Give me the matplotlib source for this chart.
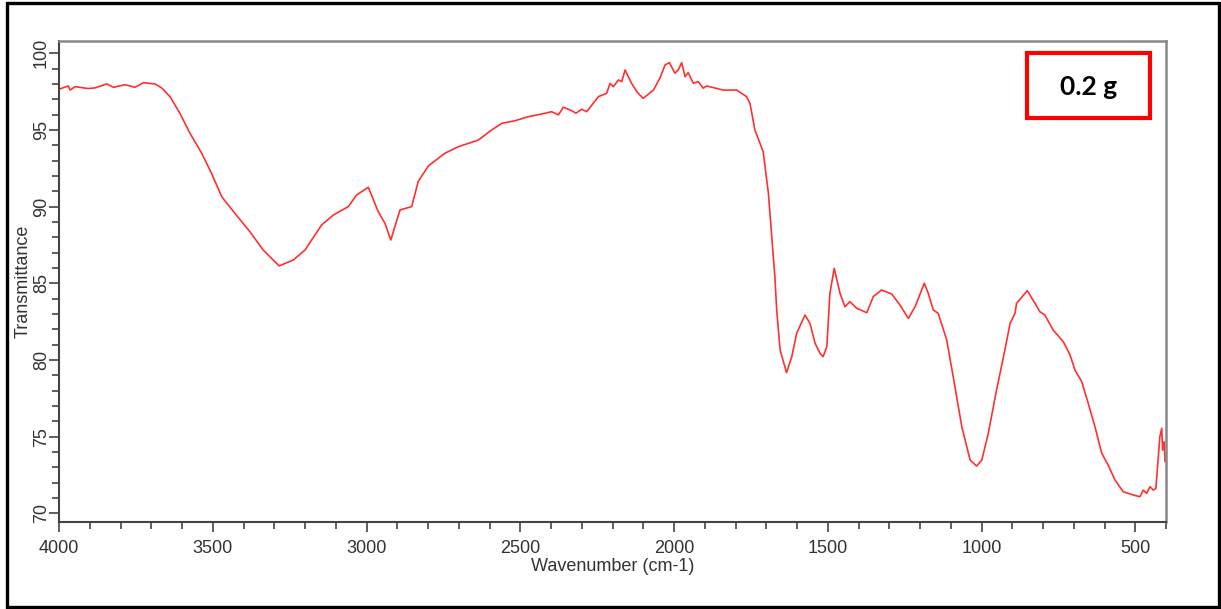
import numpy as np
import matplotlib
matplotlib.use("Agg")
import matplotlib.pyplot as plt
from matplotlib.ticker import MultipleLocator
from matplotlib.patches import Rectangle

plt.rcParams['font.family'] = ['Liberation Sans', 'DejaVu Sans']

# FTIR spectrum (wavenumber in cm-1, transmittance in %)
wavenumber = [
    4000, 3970, 3964, 3948, 3905, 3883, 3845, 3823, 3785, 3753, 3726, 3688,
    3666, 3639, 3607, 3574, 3536, 3504, 3471, 3428, 3379, 3336, 3284, 3238,
    3200, 3146, 3108, 3059, 3032, 2994, 2962, 2940, 2921, 2891, 2853, 2832,
    2799, 2745, 2701, 2636, 2593, 2560, 2517, 2474, 2430, 2398, 2376, 2360,
    2333, 2319, 2300, 2284, 2246, 2219, 2208, 2197, 2181, 2170, 2159, 2138,
    2121, 2111, 2100, 2067, 2046, 2029, 2015, 1997, 1986, 1975, 1964, 1954,
    1937, 1921, 1905, 1894, 1840, 1796, 1764, 1753, 1737, 1710, 1693, 1682,
    1672, 1666, 1655, 1634, 1617, 1601, 1574, 1558, 1541, 1525, 1515, 1503,
    1493, 1479, 1460, 1444, 1428, 1406, 1373, 1352, 1325, 1292, 1265, 1238,
    1216, 1186, 1173, 1157, 1141, 1113, 1092, 1064, 1037, 1016, 999, 978,
    951, 924, 907, 891, 886, 851, 826, 810, 794, 767, 734, 712, 696, 674,
    653, 631, 609, 588, 566, 539, 506, 485, 474, 463, 452, 441, 433, 425,
    420, 414, 411, 406, 403,
]
transmittance = [
    97.65, 97.87, 97.60, 97.82, 97.70, 97.74, 98.00, 97.78, 97.95, 97.78, 98.08, 98.00,
    97.74, 97.17, 96.09, 94.78, 93.48, 92.17, 90.65, 89.56, 88.36, 87.17, 86.13, 86.52,
    87.17, 88.80, 89.45, 90.00, 90.76, 91.26, 89.67, 88.91, 87.82, 89.78, 90.00, 91.63,
    92.65, 93.48, 93.91, 94.34, 95.00, 95.43, 95.60, 95.86, 96.04, 96.19, 95.98, 96.48,
    96.26, 96.09, 96.35, 96.19, 97.17, 97.39, 98.04, 97.82, 98.26, 98.15, 98.91, 98.04,
    97.50, 97.28, 97.06, 97.60, 98.37, 99.24, 99.39, 98.70, 98.91, 99.39, 98.47, 98.74,
    98.04, 98.15, 97.72, 97.87, 97.60, 97.60, 97.17, 96.74, 95.00, 93.58, 90.87, 88.04,
    85.43, 83.26, 80.65, 79.17, 80.21, 81.74, 82.93, 82.39, 81.08, 80.43, 80.21, 80.86,
    84.34, 85.97, 84.34, 83.47, 83.80, 83.37, 83.08, 84.13, 84.56, 84.30, 83.58, 82.71,
    83.47, 85.00, 84.34, 83.26, 83.04, 81.30, 78.90, 75.64, 73.47, 73.08, 73.47, 75.21,
    78.04, 80.65, 82.39, 83.04, 83.69, 84.52, 83.69, 83.14, 82.93, 81.95, 81.19, 80.32, 79.34, 78.58,
    77.17, 75.64, 73.91, 73.14, 72.17, 71.40, 71.19, 71.08, 71.51, 71.30, 71.73, 71.51, 71.62, 73.69,
    74.99, 75.54, 74.12, 74.66, 73.36,
]

x_ticks = [4000, 3500, 3000, 2500, 2000, 1500, 1000, 500]
y_ticks = [70, 75, 80, 85, 90, 95, 100]

W, H = 1221, 609
fig = plt.figure(figsize=(W / 100, H / 100), dpi=100)

# axes placed by pixel box
left, right, top, bottom = 59, 1166, 41, 521.7
ax = fig.add_axes([left / W, 1 - bottom / H, (right - left) / W, (bottom - top) / H])

ax.plot(wavenumber, transmittance, color='#ff3030', linewidth=1.2)

ax.set_xlim(4000, 400)
ax.set_ylim(69.45, 100.8)
ax.set_xticks(x_ticks)
ax.set_yticks(y_ticks)
ax.xaxis.set_minor_locator(MultipleLocator(100))
ax.yaxis.set_minor_locator(MultipleLocator(1))

text_color = '#333333'
ax.tick_params(axis='both', which='major', length=7.5, width=1.2,
               color='#444444', labelsize=13, labelcolor=text_color)
ax.tick_params(axis='both', which='minor', length=5, width=1.2, color='#444444')
ax.tick_params(axis='x', which='major', pad=6)
ax.tick_params(axis='y', which='major', pad=-1)
for lab in ax.get_yticklabels():
    lab.set_rotation(90)
    lab.set_va('center')

for side in ['left', 'bottom']:
    ax.spines[side].set_color('#444444')
    ax.spines[side].set_linewidth(1.5)
for side in ['top', 'right']:
    ax.spines[side].set_color('#888888')
    ax.spines[side].set_linewidth(1.8)

ax.set_xlabel('Wavenumber (cm-1)', fontsize=13, color=text_color)
ax.xaxis.set_label_coords(0.5, -(558 - bottom) / (bottom - top))
ax.set_ylabel('Transmittance', fontsize=13, color=text_color)
ax.yaxis.set_label_coords(-(left - 32) / (right - left), 0.5)

# red sample box
bx0, by0, bx1, by1 = 1027, 53, 1150, 118
fig.add_artist(Rectangle((bx0 / W, 1 - by1 / H), (bx1 - bx0) / W, (by1 - by0) / H,
                         transform=fig.transFigure, fill=False,
                         edgecolor='#ff0000', linewidth=3))
fig.text((bx0 + bx1) / 2 / W, 1 - 87 / H, '0.2 g', fontsize=19, fontweight='bold',
         family=['Lato', 'DejaVu Sans'], color='black', ha='center', va='center')

# outer frame
fx0, fy0, fx1, fy1 = 6.7, 3.3, 1218.5, 607
fig.add_artist(Rectangle((fx0 / W, 1 - fy1 / H), (fx1 - fx0) / W, (fy1 - fy0) / H,
                         transform=fig.transFigure, fill=False,
                         edgecolor='black', linewidth=2.4))

fig.savefig('out.png', dpi=100)
